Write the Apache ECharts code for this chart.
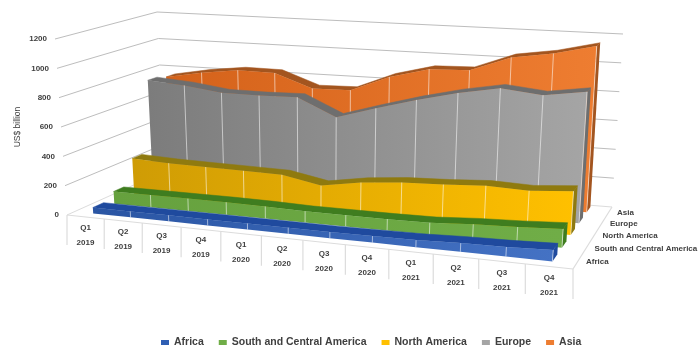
<!DOCTYPE html>
<html>
<head>
<meta charset="utf-8">
<style>
  html, body { margin: 0; padding: 0; background: #fff; }
  #main { width: 700px; height: 350px; }
</style>
<script src="https://cdn.jsdelivr.net/npm/echarts@6/dist/echarts.min.js"></script>
</head>
<body>
<div id="main"></div>
<script>
var quarters = ["Q1", "Q2", "Q3", "Q4", "Q1", "Q2", "Q3", "Q4", "Q1", "Q2", "Q3", "Q4"];
var years = ["2019", "2019", "2019", "2019", "2020", "2020", "2020", "2020", "2021", "2021", "2021", "2021"];
var yTicks = [0, 200, 400, 600, 800, 1000, 1200];

var africa = [40, 40, 40, 40, 40, 40, 40, 42, 45, 55, 60, 70];
var southCentral = [85, 85, 85, 85, 82, 75, 75, 75, 78, 95, 105, 120];
var northAmerica = [257, 245, 240, 236, 231, 180, 224, 248, 258, 274, 265, 287];
var europe = [768, 748, 712, 710, 716, 593, 675, 752, 818, 868, 839, 880];
var asia = [747, 795, 828, 825, 728, 733, 845, 916, 924, 1030, 1072, 1139];

// corners of the box on screen: front left, front right, back right, back left
var floorQuad = [[67, 215], [573, 269], [612, 207], [165, 171]];
var topQuad = [[55, 39], [587, 72], [623, 34], [157, 12]];
var xWarp = 0.912; // evens out the quarter widths, the corners alone give too much perspective

var W = 700, H = 350;

function homography(q) {
  var x0 = q[0][0], y0 = q[0][1], x1 = q[1][0], y1 = q[1][1];
  var x2 = q[2][0], y2 = q[2][1], x3 = q[3][0], y3 = q[3][1];
  var dx1 = x1 - x2, dx2 = x3 - x2, sx = x0 - x1 + x2 - x3;
  var dy1 = y1 - y2, dy2 = y3 - y2, sy = y0 - y1 + y2 - y3;
  var det = dx1 * dy2 - dx2 * dy1;
  var g = (sx * dy2 - dx2 * sy) / det;
  var h = (dx1 * sy - sx * dy1) / det;
  var a = x1 - x0 + g * x1, b = x3 - x0 + h * x3;
  var d = y1 - y0 + g * y1, e = y3 - y0 + h * y3;
  return function (u, z) {
    var w = g * u + h * z + 1;
    return [(a * u + b * z + x0) / w, (d * u + e * z + y0) / w];
  };
}
var floorH = homography(floorQuad);
var topH = homography(topQuad);

// axis position (x in quarters, v in US$ billion) + depth -> screen pixel
function project(api, x, v, z) {
  var c = api.coord([x, v]);
  var u = c[0] / W, t = 1 - c[1] / H;
  u = u / (u + (1 - u) * xWarp);
  var a = floorH(u, z), b = topH(u, z);
  return [a[0] + (b[0] - a[0]) * t, a[1] + (b[1] - a[1]) * t];
}

function line(p, q, color, width) {
  return {
    type: "line",
    shape: { x1: p[0], y1: p[1], x2: q[0], y2: q[1] },
    style: { stroke: color, lineWidth: width || 1 }
  };
}
function label(text, x, y, align, size, color) {
  return {
    type: "text",
    style: {
      text: text, x: x, y: y, align: align, verticalAlign: "middle",
      fill: color || "#404040", fontSize: size || 8, fontWeight: "bold",
      fontFamily: "Liberation Sans"
    }
  };
}

function renderFrame(params, api) {
  if (params.dataIndex !== 0) return null;
  var kids = [];
  yTicks.forEach(function (v) {
    var a = project(api, 0, v, 0), b = project(api, 0, v, 1), c = project(api, 12, v, 1);
    var col = v === 0 ? "#dcdcdc" : "#bdbdbd";
    kids.push(line(a, b, col));
    kids.push(line(b, c, col));
    kids.push(label(String(v), a[0] - 8, a[1], "right"));
  });
  var fl = project(api, 0, 0, 0), fr = project(api, 12, 0, 0), br = project(api, 12, 0, 1);
  kids.push(line(fl, fr, "#dcdcdc", 1.2));
  kids.push(line(fr, br, "#dcdcdc", 1.2));
  for (var i = 0; i <= 12; i++) {
    var p = project(api, i, 0, 0);
    kids.push(line(p, [p[0], p[1] + 30], "#dcdcdc", 1.2));
    if (i < 12) {
      var m = project(api, i + 0.5, 0, 0);
      kids.push(label(quarters[i], m[0], m[1] + 11, "center"));
      kids.push(label(years[i], m[0], m[1] + 26, "center"));
    }
  }
  blocks.forEach(function (b) {
    var q = project(api, 12, 0, b.z + 0.04);
    kids.push(label(b.name, q[0] + 8, q[1] + 1, "left"));
  });
  return { type: "group", children: kids };
}

function renderRibbon(block) {
  return function (params, api) {
    if (params.dataIndex !== 0) return null;
    var frontTop = [], frontBottom = [], backTop = [];
    block.values.forEach(function (v, i) {
      frontTop.push(project(api, i + 0.5, v, block.z));
      frontBottom.push(project(api, i + 0.5, 0, block.z));
      backTop.push(project(api, i + 0.5, v, block.z + block.dz));
    });
    var n = block.values.length - 1;
    var backBottom = project(api, n + 0.5, 0, block.z + block.dz);
    var kids = [];
    kids.push({
      type: "polygon",
      shape: { points: [frontTop[n], backTop[n], backBottom, frontBottom[n]] },
      style: { fill: block.side }
    });
    kids.push({
      type: "polygon",
      shape: { points: frontTop.concat(backTop.slice().reverse()) },
      style: { fill: block.side, stroke: block.side, lineWidth: 0.5 }
    });
    kids.push({
      type: "polygon",
      shape: { points: frontTop.concat(frontBottom.slice().reverse()) },
      style: {
        fill: new echarts.graphic.LinearGradient(0, 0, 1, 0, [
          { offset: 0, color: block.left },
          { offset: 1, color: block.right }
        ])
      }
    });
    for (var i = 1; i <= n; i++) {
      kids.push(line(frontTop[i], frontBottom[i], "rgba(255,255,255,0.55)", 1));
    }
    return { type: "group", children: kids };
  };
}

var blocks = [
  { name: "Africa", values: africa, z: 0.07, dz: 0.1, color: "#2f5fb3", left: "#2a55a3", right: "#4472c4", side: "#1f4a9e" },
  { name: "South and Central America", values: southCentral, z: 0.27, dz: 0.1, color: "#70ad47", left: "#66a13e", right: "#70ad47", side: "#3f7d1f" },
  { name: "North America", values: northAmerica, z: 0.47, dz: 0.1, color: "#ffc000", left: "#cf9c05", right: "#ffc000", side: "#8f7a0f" },
  { name: "Europe", values: europe, z: 0.67, dz: 0.1, color: "#a5a5a5", left: "#7c7c7c", right: "#a5a5a5", side: "#6e6e6e" },
  { name: "Asia", values: asia, z: 0.87, dz: 0.1, color: "#ed7d31", left: "#d4621a", right: "#ee7d31", side: "#a3551f" }
];

var series = [{
  type: "custom", name: "frame", z: 1, silent: true,
  data: [[0, 0]], renderItem: renderFrame
}];
blocks.forEach(function (b, i) {
  series.push({
    type: "custom",
    name: b.name,
    z: 10 - i,
    silent: true,
    itemStyle: { color: b.color },
    data: b.values.map(function (v, k) { return [k + 0.5, v]; }),
    renderItem: renderRibbon(b)
  });
});

var myChart = echarts.init(document.getElementById("main"), null, { renderer: "canvas" });
myChart.setOption({
  animation: false,
  backgroundColor: "#fff",
  grid: { left: 0, right: 0, top: 0, bottom: 0 },
  xAxis: { type: "value", min: 0, max: 12, show: false },
  yAxis: { type: "value", min: 0, max: 1200, show: false },
  legend: {
    data: blocks.map(function (b) { return b.name; }),
    top: 332,
    left: 156,
    icon: "rect",
    itemWidth: 8,
    itemHeight: 5,
    itemGap: 15,
    textStyle: { fontSize: 10.5, fontWeight: "bold", color: "#404040", fontFamily: "Liberation Sans" }
  },
  graphic: [{
    type: "text",
    rotation: Math.PI / 2,
    x: 18,
    y: 127,
    style: {
      text: "US$ billion", align: "center", verticalAlign: "middle",
      fill: "#404040", fontSize: 8.5, fontFamily: "Liberation Sans"
    }
  }],
  series: series
});
</script>
</body>
</html>
